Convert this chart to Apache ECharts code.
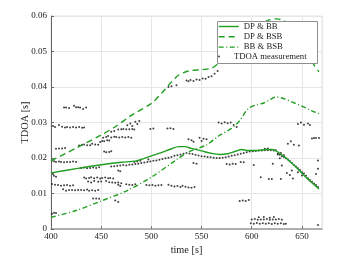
<!DOCTYPE html>
<html><head><meta charset="utf-8">
<script src="https://cdn.jsdelivr.net/npm/echarts@6/dist/echarts.min.js"></script>
<style>html,body{margin:0;padding:0;background:#fff}#c{width:360px;height:260px}</style>
</head><body><div id="c"></div>
<script>
// ---- data ----
const seriesNames = ['DP & BB', 'DP & BSB', 'BB & BSB', 'TDOA measurement'];

const dpbbT = [400,425,450,470,485,500,510,520,527,533,540,550,560,568,576,584,590,596,605,615,620,625,635,645,655,667];
const dpbbV = [0.0158,0.0170,0.0181,0.0188,0.0192,0.0206,0.0215,0.0226,0.0232,0.0232,0.0227,0.0220,0.0213,0.0210,0.0212,0.0219,0.0224,0.0221,0.0221,0.0224,0.0224,0.0219,0.0198,0.0172,0.0143,0.0113];

const dpbsbT = [400,425,450,464,480,500,510,520,527,537,550,560,567,578,590,605,615,624,632,642,652,661,667];
const dpbsbV = [0.0192,0.0228,0.0265,0.0288,0.0320,0.0354,0.0382,0.0414,0.0433,0.0445,0.0449,0.0453,0.0467,0.0495,0.0530,0.0568,0.0586,0.0592,0.0587,0.0562,0.0522,0.0467,0.0443];

const bbbsbT = [400,425,450,475,500,525,537,555,568,580,588,596,605,612,618,624,630,640,650,660,667];
const bbbsbV = [0.0033,0.0052,0.0079,0.0107,0.0146,0.0195,0.0217,0.0237,0.0264,0.0284,0.0305,0.0338,0.0350,0.0355,0.0364,0.0372,0.0369,0.0358,0.0346,0.0333,0.0325];

const tdoaPoints = [
 [413,.0342],[415,.0342],[418,.0341],[423,.0347],[425,.0343],[427,.0343],[429,.0342],[432,.0338],[435,.0342],
 [402,.0290],[404,.0287],[408,.0293],[411,.0288],[414,.0286],[416,.0287],[419,.0286],[422,.0287],[425,.0286],[428,.0287],[431,.0285],[433,.0286],
 [405,.0226],[408,.0227],[411,.0227],[414,.0228],
 [401,.0193],[403,.0191],[405,.0189],[408,.0190],[410,.0189],[413,.0188],[416,.0189],[419,.0189],[422,.0190],[425,.0189],
 [402,.0155],[403,.0150],[405,.0147],
 [401,.0127],[404,.0125],[407,.0124],[410,.0122],[413,.0123],[416,.0124],[419,.0122],[422,.0123],
 [412,.0112],[415,.0108],[418,.0110],[421,.0110],[424,.0109],[427,.0110],[430,.0110],[433,.0109],[436,.0111],[438,.0108],[441,.0109],[444,.0108],[447,.0110],
 [401,.0043],[403,.0046],[405,.0045],
 [442,.0086],[445,.0086],[448,.0085],[464,.0080],[467,.0076],
 [428,.0235],[431,.0237],[433,.0238],[436,.0236],[439,.0236],[441,.0240],[444,.0238],[447,.0237],
 [449,.0245],[451,.0248],[453,.0247],[456,.0250],[458,.0249],
 [452,.0257],[455,.0259],[457,.0262],[460,.0258],[463,.0260],[465,.0259],[468,.0258],[471,.0259],[474,.0258],[477,.0259],[480,.0257],
 [460,.0274],[463,.0276],[467,.0280],[470,.0281],[472,.0282],[475,.0281],[478,.0281],[481,.0282],[483,.0280],
 [476,.0292],[479,.0297],[481,.0290],[484,.0302],[486,.0296],[488,.0304],
 [499,.0282],[502,.0283],[516,.0283],[519,.0284],[522,.0282],
 [453,.0218],[455,.0216],[458,.0217],[460,.0219],
 [430,.0172],[433,.0173],[436,.0171],[439,.0172],[442,.0173],[445,.0172],[448,.0174],[460,.0176],[463,.0177],[466,.0178],[469,.0179],[472,.0180],[475,.0179],[478,.0181],[481,.0182],[484,.0183],[487,.0184],[490,.0186],[493,.0187],[496,.0189],[499,.0190],[502,.0192],[505,.0193],[508,.0195],[511,.0197],[514,.0199],[517,.0201],[520,.0203],[523,.0206],[526,.0208],[529,.0210],[532,.0212],[535,.0214],[538,.0213],[541,.0211],[544,.0209],[547,.0207],[550,.0205],[553,.0204],[556,.0203],[559,.0202],[562,.0201],[565,.0200],[568,.0200],[571,.0201],[574,.0202],[577,.0204],[580,.0206],[583,.0208],[586,.0210],[589,.0212],[592,.0214],[595,.0216],[598,.0218],[601,.0219],[604,.0220],[607,.0221],[610,.0221],[613,.0222],[616,.0222],[619,.0222],[622,.0221],
 [483,.0189],[486,.0190],[489,.0192],[497,.0196],
 [542,.0186],[545,.0184],[575,.0183],[578,.0182],[581,.0184],[584,.0183],[589,.0189],[592,.0188],[602,.0180],
 [433,.0145],[435,.0142],[438,.0144],[440,.0146],[443,.0143],[446,.0145],[449,.0142],[451,.0144],[454,.0145],[457,.0143],[459,.0144],[462,.0142],
 [437,.0134],[440,.0131],[443,.0135],[447,.0133],[450,.0134],[455,.0135],[458,.0132],[461,.0131],[464,.0130],[467,.0131],[470,.0129],
 [467,.0165],[469,.0163],
 [467,.0125],[469,.0121],[475,.0126],[478,.0125],[481,.0124],[484,.0126],[495,.0124],[498,.0123],[501,.0124],[504,.0122],[507,.0123],[510,.0124],[517,.0125],[520,.0122],[523,.0120],[526,.0121],[529,.0118],[531,.0122],[534,.0119],[537,.0117],[540,.0116],[543,.0118],
 [537,.0253],[540,.0250],[542,.0246],[548,.0257],[550,.0248],[552,.0254],[555,.0253],
 [517,.0400],[520,.0402],[525,.0405],[535,.0418],[537,.0416],[539,.0420],[542,.0417],[545,.0421],[548,.0420],[551,.0424],[554,.0423],[557,.0428],[560,.0430],[563,.0437],[566,.0445],
 [567,.0300],[570,.0297],[573,.0301],[576,.0298],[579,.0300],[582,.0293],[585,.0287],
 [588,.0079],[591,.0080],[594,.0079],[597,.0082],
 [600,.0027],[603,.0028],[606,.0026],[609,.0027],[612,.0027],[615,.0028],[618,.0026],[621,.0027],[624,.0027],[627,.0028],[630,.0026],
 [599,.0016],[602,.0015],[605,.0017],[608,.0015],[611,.0016],[614,.0015],[617,.0016],[620,.0014],[623,.0016],[626,.0015],[629,.0016],[632,.0014],[634,.0015],
 [607,.0033],[612,.0034],[618,.0032],[622,.0034],[666,.0011],
 [609,.0146],[617,.0141],[620,.0141],[629,.0141],[635,.0158],[638,.0152],[641,.0142],
 [624,.0222],[626,.0213],[628,.0209],[630,.0205],[632,.0203],[634,.0199],[636,.0196],[638,.0191],[640,.0186],[642,.0180],[644,.0176],[646,.0171],[648,.0166],[650,.0160],[652,.0156],[654,.0150],[656,.0143],[658,.0138],[660,.0133],[662,.0128],[664,.0124],[666,.0118],
 [621,.0184],[630,.0179],[640,.0165],[646,.0160],[650,.0151],[664,.0155],[666,.0170],[626,.0210],[628,.0199],[629,.0214],[632,.0208],[666,.0193],
 [636,.0240],[639,.0247],[642,.0237],[647,.0235],
 [646,.0296],[649,.0300],[652,.0294],[656,.0297],[658,.0293],
 [660,.0255],[662,.0256],[664,.0256],[667,.0256],
 [613,.0226],[616,.0227]
];

const xTicks = [400, 450, 500, 550, 600, 650];
const yTicks = [0, 0.01, 0.02, 0.03, 0.04, 0.05, 0.06];

// ---- chart ----
const zip = (t, v) => t.map((x, i) => [x, v[i]]);
const FONT = 'Liberation Serif';
const GREEN = '#1f9e1f';
const chart = echarts.init(document.getElementById('c'), null, {renderer: 'canvas'});
chart.setOption({
  animation: false,
  backgroundColor: '#fff',
  grid: {left: 51, top: 16, width: 271, height: 213, show: true, borderColor: '#e3e3e3', borderWidth: 1, backgroundColor: 'transparent'},
  xAxis: {
    type: 'value', min: xTicks[0], max: 670, interval: xTicks[1] - xTicks[0],
    name: 'time [s]', nameLocation: 'middle', nameGap: 16, nameMoveOverlap: false,
    nameTextStyle: {fontFamily: FONT, fontSize: 10.3, color: '#222'},
    axisLine: {show: true, onZero: false, lineStyle: {color: '#9a9a9a', width: 1.5}},
    axisTick: {show: true, inside: true, length: 3, lineStyle: {color: '#777'}},
    axisLabel: {fontFamily: FONT, fontSize: 9, color: '#222', margin: 3, showMaxLabel: false},
    splitLine: {show: true, lineStyle: {color: '#e6e6e6', width: 1}}
  },
  yAxis: {
    type: 'value', min: yTicks[0], max: yTicks[yTicks.length - 1], interval: yTicks[1] - yTicks[0],
    name: 'TDOA [s]', nameLocation: 'middle', nameGap: 21, nameMoveOverlap: false,
    nameTextStyle: {fontFamily: FONT, fontSize: 10.3, color: '#222'},
    axisLine: {show: true, onZero: false, lineStyle: {color: '#666', width: 1}},
    axisTick: {show: true, inside: true, length: 3, lineStyle: {color: '#666'}},
    axisLabel: {fontFamily: FONT, fontSize: 9, color: '#222', margin: 4},
    splitLine: {show: true, lineStyle: {color: '#e6e6e6', width: 1}}
  },
  legend: [
    {data: seriesNames.slice(0, 3), orient: 'vertical', left: 218, top: 21.5, padding: 0,
     itemWidth: 20, itemHeight: 10, itemGap: 0.3, selectedMode: false, z: 110,
     itemStyle: {opacity: 0},
     lineStyle: {width: 1.4},
     textStyle: {fontFamily: FONT, fontSize: 8.7, color: '#222', lineHeight: 10}},
    {data: [seriesNames[3]], orient: 'vertical', left: 218, top: 52, padding: 0,
     itemWidth: 20, itemHeight: 2, selectedMode: false, z: 110,
     textStyle: {fontFamily: FONT, fontSize: 8.7, color: '#222'}}
  ],
  graphic: [{type: 'rect', z: 100, shape: {x: 217.5, y: 21.5, width: 100, height: 42},
    style: {fill: '#fff', stroke: '#8f8f8f', lineWidth: 1}}],
  series: [
    {name: seriesNames[0], type: 'line', data: zip(dpbbT, dpbbV), symbol: 'none', smooth: 0.3,
     lineStyle: {color: GREEN, width: 1.4, type: 'solid'}, itemStyle: {color: GREEN}, z: 3},
    {name: seriesNames[1], type: 'line', data: zip(dpbsbT, dpbsbV), symbol: 'none', smooth: 0.3,
     lineStyle: {color: GREEN, width: 1.4, type: [6, 4]}, itemStyle: {color: GREEN}, z: 3},
    {name: seriesNames[2], type: 'line', data: zip(bbbsbT, bbbsbV), symbol: 'none', smooth: 0.3,
     lineStyle: {color: GREEN, width: 1.4, type: [5, 2.5, 1, 2.5]}, itemStyle: {color: GREEN}, z: 3},
    {name: seriesNames[3], type: 'scatter', data: tdoaPoints, symbol: 'circle', symbolSize: 2,
     itemStyle: {color: '#111'}, z: 2}
  ]
});
</script></body></html>
